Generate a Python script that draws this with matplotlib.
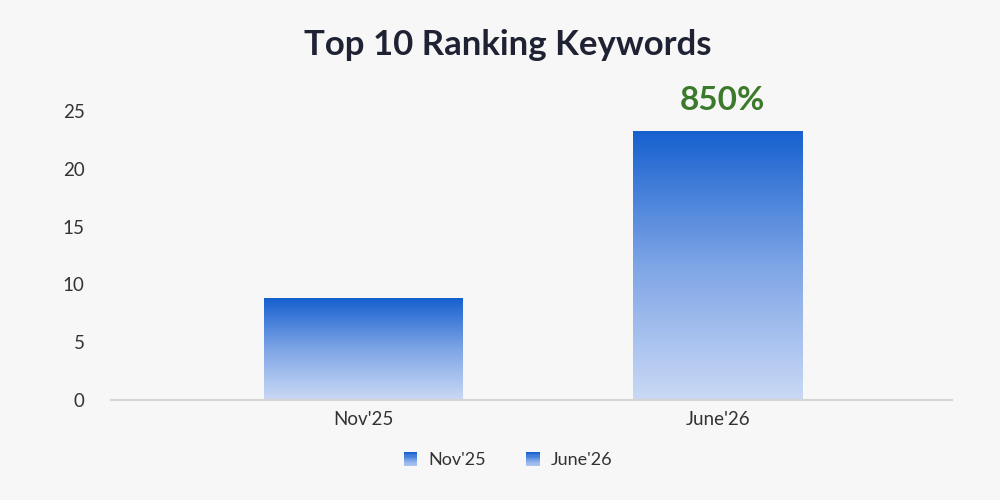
import numpy as np
import matplotlib
matplotlib.use("Agg")
import matplotlib.pyplot as plt
from matplotlib.colors import LinearSegmentedColormap
from matplotlib.patches import Rectangle
from matplotlib.legend_handler import HandlerBase

plt.rcParams['font.family'] = ['Lato', 'DejaVu Sans']

# Data
categories = ["Nov'25", "June'26"]
values = [8.8, 23.3]
growth_label = "850%"
yticks = [0, 5, 10, 15, 20, 25]

bg = '#f7f7f7'
top_color = '#1660cf'
bottom_color = '#cad9f5'
cmap = LinearSegmentedColormap.from_list('grad', [bottom_color, '#7ea5e6', top_color])

fig = plt.figure(figsize=(10, 5), dpi=100, facecolor=bg)
ax = fig.add_axes([0.111, 0.2, 0.841, 0.578])
ax.set_facecolor(bg)

x = np.arange(len(categories))
widths = [0.558, 0.479]
bars = ax.bar(x, values, width=widths, color='none', zorder=2)

grad = np.linspace(0, 1, 256).reshape(-1, 1)
for b in bars:
    x0, w, h = b.get_x(), b.get_width(), b.get_height()
    im = ax.imshow(grad, extent=[x0, x0 + w, 0, h], origin='lower', cmap=cmap,
                   aspect='auto', zorder=2)
    im.set_clip_path(b)

ax.set_xlim(-0.71, 1.66)
ax.set_ylim(0, 25)
ax.set_yticks(yticks)
ax.set_xticks(x)
ax.set_xticklabels(categories)
ax.tick_params(axis='both', length=0, labelsize=13.5, colors='#333333')
ax.tick_params(axis='y', pad=19)
ax.tick_params(axis='x', pad=8)
for s in ['top', 'right', 'left']:
    ax.spines[s].set_visible(False)
ax.spines['bottom'].set_color('#d4d4d4')
ax.spines['bottom'].set_linewidth(1.5)

ax.annotate(growth_label, xy=(x[1], values[1]), xytext=(3, 11), textcoords='offset points',
            ha='center', va='bottom', fontsize=24, fontweight='bold', color='#3c7a2b')

fig.text(0.508, 0.91, "Top 10 Ranking Keywords", ha='center', va='center',
         fontsize=25, fontweight='bold', color='#1f2233')


class GradientHandler(HandlerBase):
    def create_artists(self, legend, orig_handle, xdescent, ydescent, width, height, fontsize, trans):
        n = 12
        side = height
        x0 = xdescent + (width - side) / 2
        arts = []
        for i in range(n):
            c = cmap(1 - i / (n - 1) * 0.8)
            r = Rectangle((x0, -ydescent + side * (1 - (i + 1) / n)), side, side / n,
                          facecolor=c, edgecolor='none', transform=trans)
            arts.append(r)
        return arts


handles = [Rectangle((0, 0), 1, 1) for _ in categories]
fig.legend(handles, categories, handler_map={Rectangle: GradientHandler()},
           loc='center', bbox_to_anchor=(0.508, 0.08), ncol=2, frameon=False,
           fontsize=13, handlelength=0.8, handleheight=0.8, handletextpad=0.6,
           columnspacing=2.2, labelcolor='#333333')

fig.savefig('out.png', dpi=100, facecolor=bg)
